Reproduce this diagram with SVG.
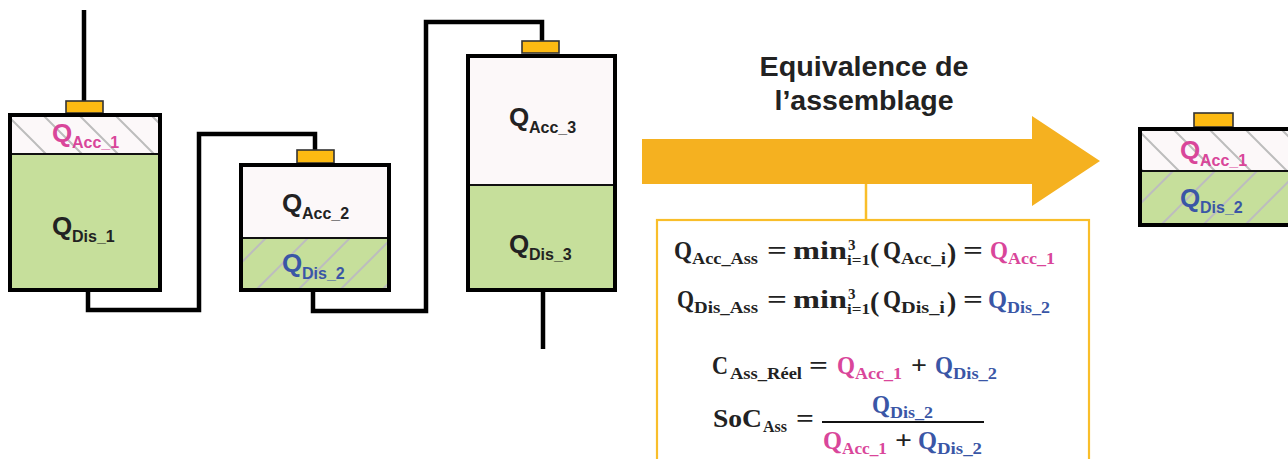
<svg xmlns="http://www.w3.org/2000/svg" width="1288" height="459" viewBox="0 0 1288 459">
<style>
.pink{fill:#FCF8F9}
.green{fill:#C6DF9B}
.border{fill:none;stroke:#000;stroke-width:4}
.div{stroke:#111;stroke-width:2}
.term{fill:#FDBA12;stroke:#333;stroke-width:1.6}
.wire{fill:none;stroke:#000;stroke-width:4.5;stroke-linejoin:miter}
.L{font-family:"Liberation Sans",Arial,sans-serif;font-weight:bold;fill:#222}
.Lq{font-size:26px}
.Ls{font-size:16px}
.M{font-family:"Liberation Serif","Times New Roman",serif;font-weight:bold;fill:#222}
.mq{font-size:25px}
.ms{font-size:17px}
.title{font-family:"Liberation Sans",Arial,sans-serif;font-weight:bold;font-size:27px;fill:#222}
.cp{fill:#D9469A}
.cb{fill:#3A56A6}
</style>
<defs>
<pattern id="hb" patternUnits="userSpaceOnUse" width="36" height="36">
<path d="M0,0 L36,36 M-6,30 L6,42 M30,-6 L42,6" stroke="#BDBDBD" stroke-width="2"/>
</pattern>
<pattern id="hf" patternUnits="userSpaceOnUse" width="42" height="42">
<path d="M0,42 L42,0 M-6,6 L6,-6 M36,48 L48,36" stroke="#BDBDBD" stroke-width="2"/>
</pattern>
</defs>
<rect width="1288" height="459" fill="#fff"/>

<g id="connectors">
<path class="wire" d="M84,10 V101"/>
<path class="wire" d="M88,292 V310 H199 V134 H315 V150"/>
<path class="wire" d="M313,292 V311 H426 V22 H542 V41"/>
<path class="wire" d="M543,292 V349"/>
<path d="M866,184 V220" stroke="#F9BE2A" stroke-width="2.5"/>
</g>

<g id="cell1">
<rect class="term" x="66" y="101" width="37" height="12"/>
<rect class="pink" x="8" y="113" width="154" height="41"/>
<rect fill="url(#hb)" x="8" y="113" width="154" height="41"/>
<rect class="green" x="8" y="154" width="154" height="138"/>
<line class="div" x1="8" y1="154" x2="162" y2="154"/>
<rect class="border" x="10" y="115" width="150" height="175"/>
<text class="L Lq cp" x="52" y="142">Q</text><text class="L Ls cp" x="72" y="148">Acc_1</text>
<text class="L Lq" x="52" y="235">Q</text><text class="L Ls" x="72" y="242">Dis_1</text>
</g>

<g id="cell2">
<rect class="term" x="297" y="150" width="37" height="13"/>
<rect class="pink" x="239" y="163" width="152" height="75"/>
<rect class="green" x="239" y="238" width="152" height="54"/>
<rect fill="url(#hf)" x="239" y="238" width="152" height="54"/>
<line class="div" x1="239" y1="238" x2="391" y2="238"/>
<rect class="border" x="241" y="165" width="148" height="125"/>
<text class="L Lq" x="282" y="212">Q</text><text class="L Ls" x="302" y="219">Acc_2</text>
<text class="L Lq cb" x="282" y="272">Q</text><text class="L Ls cb" x="302" y="279">Dis_2</text>
</g>

<g id="cell3">
<rect class="term" x="522" y="41" width="37" height="12"/>
<rect class="pink" x="466" y="54" width="151" height="131"/>
<rect class="green" x="466" y="185" width="151" height="107"/>
<line class="div" x1="466" y1="185" x2="617" y2="185"/>
<rect class="border" x="468" y="56" width="147" height="234"/>
<text class="L Lq" x="509" y="126">Q</text><text class="L Ls" x="529" y="133">Acc_3</text>
<text class="L Lq" x="509" y="253">Q</text><text class="L Ls" x="529" y="260">Dis_3</text>
</g>

<g id="arrow">
<polygon points="642,139 1032,139 1032,116 1100,161 1032,206 1032,184 642,184" fill="#F5B120"/>
<text class="title" x="864" y="76" text-anchor="middle" textLength="209" lengthAdjust="spacingAndGlyphs">Equivalence de</text>
<text class="title" x="864" y="110" text-anchor="middle" textLength="179" lengthAdjust="spacingAndGlyphs">l’assemblage</text>
</g>

<g id="equiv">
<rect class="term" x="1194" y="113" width="39" height="14"/>
<rect class="pink" x="1138" y="127" width="160" height="44"/>
<rect fill="url(#hb)" x="1138" y="127" width="160" height="44"/>
<rect class="green" x="1138" y="171" width="160" height="56"/>
<rect fill="url(#hf)" x="1138" y="171" width="160" height="56"/>
<line class="div" x1="1138" y1="171" x2="1298" y2="171"/>
<rect class="border" x="1140" y="129" width="160" height="96"/>
<text class="L Lq cp" x="1180" y="159">Q</text><text class="L Ls cp" x="1200" y="166">Acc_1</text>
<text class="L Lq cb" x="1180" y="207">Q</text><text class="L Ls cb" x="1200" y="213">Dis_2</text>
</g>

<g id="formulas">
<rect x="657" y="220" width="432" height="260" fill="#fff" stroke="#F9BE2A" stroke-width="2.2"/>
<!-- line 1 -->
<text class="M mq" x="674" y="259" textLength="18" lengthAdjust="spacingAndGlyphs">Q</text>
<text class="M ms" x="692" y="264" textLength="66" lengthAdjust="spacingAndGlyphs">Acc_Ass</text>
<text class="M mq" x="767" y="259" textLength="20" lengthAdjust="spacingAndGlyphs">=</text>
<text class="M mq" x="793" y="259" textLength="54" lengthAdjust="spacingAndGlyphs">min</text>
<text class="M" style="font-size:15px" x="848" y="250">3</text>
<text class="M" style="font-size:15px" x="847" y="265" textLength="23" lengthAdjust="spacingAndGlyphs">i=1</text>
<text class="M" style="font-size:28px" x="870" y="262">(</text>
<text class="M mq" x="883" y="259" textLength="18" lengthAdjust="spacingAndGlyphs">Q</text>
<text class="M ms" x="901" y="264" textLength="45" lengthAdjust="spacingAndGlyphs">Acc_i</text>
<text class="M" style="font-size:28px" x="947" y="262">)</text>
<text class="M mq" x="963" y="259" textLength="20" lengthAdjust="spacingAndGlyphs">=</text>
<text class="M mq cp" x="990" y="259" textLength="18" lengthAdjust="spacingAndGlyphs">Q</text>
<text class="M ms cp" x="1008" y="264" textLength="47" lengthAdjust="spacingAndGlyphs">Acc_1</text>
<!-- line 2 -->
<text class="M mq" x="677" y="308" textLength="17" lengthAdjust="spacingAndGlyphs">Q</text>
<text class="M ms" x="694" y="313" textLength="64" lengthAdjust="spacingAndGlyphs">Dis_Ass</text>
<text class="M mq" x="767" y="308" textLength="20" lengthAdjust="spacingAndGlyphs">=</text>
<text class="M mq" x="793" y="308" textLength="54" lengthAdjust="spacingAndGlyphs">min</text>
<text class="M" style="font-size:15px" x="848" y="299">3</text>
<text class="M" style="font-size:15px" x="847" y="314" textLength="23" lengthAdjust="spacingAndGlyphs">i=1</text>
<text class="M" style="font-size:28px" x="870" y="311">(</text>
<text class="M mq" x="883" y="308" textLength="18" lengthAdjust="spacingAndGlyphs">Q</text>
<text class="M ms" x="901" y="313" textLength="44" lengthAdjust="spacingAndGlyphs">Dis_i</text>
<text class="M" style="font-size:28px" x="947" y="311">)</text>
<text class="M mq" x="963" y="308" textLength="20" lengthAdjust="spacingAndGlyphs">=</text>
<text class="M mq cb" x="988" y="308" textLength="19" lengthAdjust="spacingAndGlyphs">Q</text>
<text class="M ms cb" x="1007" y="313" textLength="43" lengthAdjust="spacingAndGlyphs">Dis_2</text>
<!-- line 3 -->
<text class="M mq" x="712" y="374" textLength="16" lengthAdjust="spacingAndGlyphs">C</text>
<text class="M ms" x="730" y="379" textLength="72" lengthAdjust="spacingAndGlyphs">Ass_Réel</text>
<text class="M mq" x="809" y="374" textLength="19" lengthAdjust="spacingAndGlyphs">=</text>
<text class="M mq cp" x="837" y="374" textLength="18" lengthAdjust="spacingAndGlyphs">Q</text>
<text class="M ms cp" x="855" y="379" textLength="47" lengthAdjust="spacingAndGlyphs">Acc_1</text>
<text class="M mq" x="911" y="374" textLength="16" lengthAdjust="spacingAndGlyphs">+</text>
<text class="M mq cb" x="935" y="374" textLength="18" lengthAdjust="spacingAndGlyphs">Q</text>
<text class="M ms cb" x="953" y="379" textLength="44" lengthAdjust="spacingAndGlyphs">Dis_2</text>
<!-- line 4 -->
<text class="M mq" x="713" y="427" textLength="49" lengthAdjust="spacingAndGlyphs">SoC</text>
<text class="M ms" x="763" y="432" textLength="24" lengthAdjust="spacingAndGlyphs">Ass</text>
<text class="M mq" x="796" y="427" textLength="18" lengthAdjust="spacingAndGlyphs">=</text>
<line x1="822" y1="422" x2="984" y2="422" stroke="#111" stroke-width="2"/>
<text class="M mq cb" x="872" y="413" textLength="18" lengthAdjust="spacingAndGlyphs">Q</text>
<text class="M ms cb" x="890" y="418" textLength="43" lengthAdjust="spacingAndGlyphs">Dis_2</text>
<text class="M mq cp" x="823" y="449" textLength="19" lengthAdjust="spacingAndGlyphs">Q</text>
<text class="M ms cp" x="842" y="454" textLength="45" lengthAdjust="spacingAndGlyphs">Acc_1</text>
<text class="M mq" x="895" y="449" textLength="17" lengthAdjust="spacingAndGlyphs">+</text>
<text class="M mq cb" x="918" y="449" textLength="19" lengthAdjust="spacingAndGlyphs">Q</text>
<text class="M ms cb" x="937" y="454" textLength="45" lengthAdjust="spacingAndGlyphs">Dis_2</text>
</g>
</svg>
